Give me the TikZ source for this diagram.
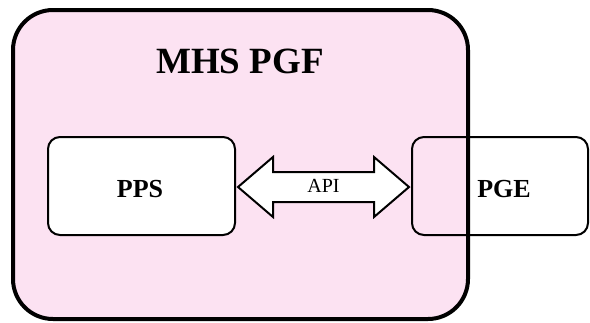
\documentclass[tikz,border=0pt]{standalone}
\usepackage{fontspec}
\setmainfont{Liberation Serif}
\usetikzlibrary{calc}
\definecolor{pgfpink}{RGB}{252,226,242}
\tikzset{
  frame/.style={draw=black, line width=4pt, rounded corners=40pt, fill=pgfpink},
  unit/.style={draw=black, line width=2pt, rounded corners=12pt, inner sep=0pt},
  lbl/.style={inner sep=0pt, font=\fontsize{26}{26}\selectfont\bfseries},
  arrowbody/.style={draw=black, line width=2pt, fill=white, line join=miter}
}
\begin{document}
\begin{tikzpicture}[x=1pt, y=-1pt]
  \useasboundingbox (0,0) rectangle (590,322);
  % outer PGF container
  \draw[frame] (13,10) rectangle (468,319);
  \node[inner sep=0pt, font=\fontsize{37}{37}\selectfont\bfseries] (title) at (240,61) {MHS PGF};
  % component boxes
  \node[unit, fill=white, minimum width=187pt, minimum height=98pt] (pps) at (141.5,186) {};
  \node[unit, minimum width=176pt, minimum height=98pt] (pge) at (500,186) {};
  \node[lbl] (ppslbl) at (140,189) {PPS};
  \node[lbl] (pgelbl) at (504,189) {PGE};
  % redraw the container border across the PGE box
  \draw[line width=4pt] (468,50) -- (468,279);
  % API double arrow between the boxes
  \coordinate (tl) at ($(pps.east)+(2,1)$);
  \coordinate (tr) at ($(pge.west)+(-2,1)$);
  \draw[arrowbody] (tl) -- ++(35,-30) -- ++(0,15) -- ($(tr)+(-35,-15)$) -- ++(0,-15)
    -- (tr) -- ++(-35,30) -- ++(0,-15) -- ($(tl)+(35,15)$) -- ++(0,15) -- cycle;
  \node[inner sep=0pt, font=\fontsize{20}{20}\selectfont] (api) at ($(tl)!0.5!(tr)+(0,-1)$) {API};
\end{tikzpicture}
\end{document}
